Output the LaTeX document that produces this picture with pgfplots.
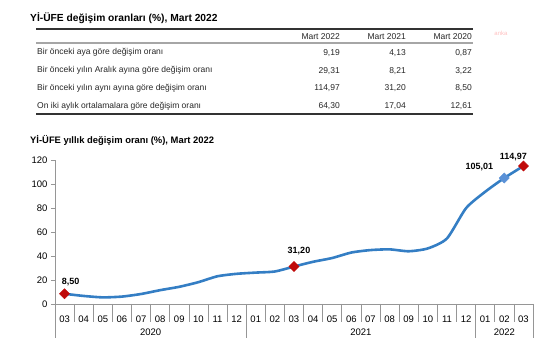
\documentclass[border=0pt]{standalone}
\usepackage{pgfplots}
\pgfplotsset{compat=1.18}
\usepackage{fontspec}
\setmainfont{Liberation Sans}
\definecolor{lineblue}{RGB}{52,126,196}
\definecolor{mkblue}{RGB}{90,145,215}
\definecolor{mkred}{RGB}{192,10,10}
\definecolor{axgray}{RGB}{150,150,150}
\begin{document}
\begin{tikzpicture}[x=1pt,y=1pt]
\path[use as bounding box] (0,0) rectangle (550,361);
% ---- table ----
\node[anchor=west,font=\bfseries\fontsize{10.25}{12}\selectfont,inner sep=0pt] at (30,343) {Yİ-ÜFE değişim oranları (\%), Mart 2022};
\node[font=\fontsize{6}{7}\selectfont,text=red!25,inner sep=0pt] at (501,328) {anka};
\draw[line width=1.2pt,black!80] (36,332) -- (473,332);
\draw[line width=1.5pt,black!35] (36,318) -- (473,318);
\draw[line width=1.2pt,black!80] (36,247) -- (473,247);
\begin{scope}[every node/.style={font=\fontsize{8.5}{10}\selectfont,inner sep=0pt,text=black!85}]
\node[anchor=east] at (340,324.5) {Mart 2022};
\node[anchor=east] at (406,324.5) {Mart 2021};
\node[anchor=east] at (472,324.5) {Mart 2020};
\node[anchor=west] at (37,308.3) {Bir önceki aya göre değişim oranı};
\node[anchor=west] at (37,290.3) {Bir önceki yılın Aralık ayına göre değişim oranı};
\node[anchor=west] at (37,272.7) {Bir önceki yılın aynı ayına göre değişim oranı};
\node[anchor=west] at (37,255) {On iki aylık ortalamalara göre değişim oranı};
\node[anchor=east] at (340,308.3) {9,19};
\node[anchor=east] at (406,308.3) {4,13};
\node[anchor=east] at (472,308.3) {0,87};
\node[anchor=east] at (340,290.3) {29,31};
\node[anchor=east] at (406,290.3) {8,21};
\node[anchor=east] at (472,290.3) {3,22};
\node[anchor=east] at (340,272.7) {114,97};
\node[anchor=east] at (406,272.7) {31,20};
\node[anchor=east] at (472,272.7) {8,50};
\node[anchor=east] at (340,255) {64,30};
\node[anchor=east] at (406,255) {17,04};
\node[anchor=east] at (472,255) {12,61};
\end{scope}
% ---- chart ----
\node[anchor=west,font=\bfseries\fontsize{9.4}{11}\selectfont,inner sep=0pt] at (30,221) {Yİ-ÜFE yıllık değişim oranı (\%), Mart 2022};
\begin{axis}[
  at={(55pt,57pt)}, anchor=south west,
  scale only axis, width=478pt, height=144pt,
  xmin=-0.5, xmax=24.5, ymin=0, ymax=120,
  clip=false,
  axis x line*=bottom, axis y line*=left,
  axis line style={axgray,-,line width=0.6pt},
  tick align=outside,
  ytick={0,20,...,120},
  ytick style={axgray,line width=0.6pt},
  major tick length=4pt,
  xtick={0,...,24},
  xtick style={draw=none},
  xticklabels={03,04,05,06,07,08,09,10,11,12,01,02,03,04,05,06,07,08,09,10,11,12,01,02,03},
  tick label style={font=\fontsize{9.5}{11}\selectfont},
  xticklabel style={yshift=-4pt},
  /pgf/number format/assume math mode=true,
]
\addplot[lineblue,line width=2.6pt,smooth,tension=0.4,line join=round] coordinates {
(0,8.50) (1,6.71) (2,5.53) (3,6.17) (4,8.33) (5,11.53) (6,14.33) (7,18.20) (8,23.11) (9,25.15)
(10,26.16) (11,27.09) (12,31.20) (13,35.17) (14,38.33) (15,42.89) (16,44.92) (17,45.52) (18,43.96)
(19,46.31) (20,54.62) (21,79.89) (22,93.53) (23,105.01) (24,114.97)};
\addplot[only marks,mark=square*,mark size=3.6pt,mark options={rotate=45,fill=mkred,draw=mkred}] coordinates {(0,8.50) (12,31.20) (24,114.97)};
\addplot[only marks,mark=square*,mark size=3.6pt,mark options={rotate=45,fill=mkblue,draw=mkblue}] coordinates {(23,105.01)};
\begin{scope}[every node/.style={font=\bfseries\fontsize{9}{11}\selectfont,inner sep=0pt}]
\node at (axis cs:0,8.50) [xshift=6pt,yshift=12pt] {8,50};
\node at (axis cs:12,31.20) [xshift=5pt,yshift=16pt] {31,20};
\node at (axis cs:23,105.01) [xshift=-25pt,yshift=11pt] {105,01};
\node at (axis cs:24,114.97) [xshift=-10pt,yshift=9pt] {114,97};
\end{scope}
\pgfplotsinvokeforeach{0.5,1.5,2.5,3.5,4.5,5.5,6.5,7.5,8.5,10.5,11.5,12.5,13.5,14.5,15.5,16.5,17.5,18.5,19.5,20.5,22.5,23.5}{
  \draw[axgray,line width=0.6pt] (axis cs:#1,0) -- ++(0pt,-18pt);}
\pgfplotsinvokeforeach{-0.5,9.5,21.5,24.5}{
  \draw[axgray,line width=0.6pt] (axis cs:#1,0) -- ++(0pt,-34pt);}
\begin{scope}[every node/.style={font=\fontsize{9.5}{11}\selectfont,inner sep=0pt}]
\node at (axis cs:4.5,0) [yshift=-28pt] {2020};
\node at (axis cs:15.5,0) [yshift=-28pt] {2021};
\node at (axis cs:23,0) [yshift=-28pt] {2022};
\end{scope}
\end{axis}
\end{tikzpicture}
\end{document}
